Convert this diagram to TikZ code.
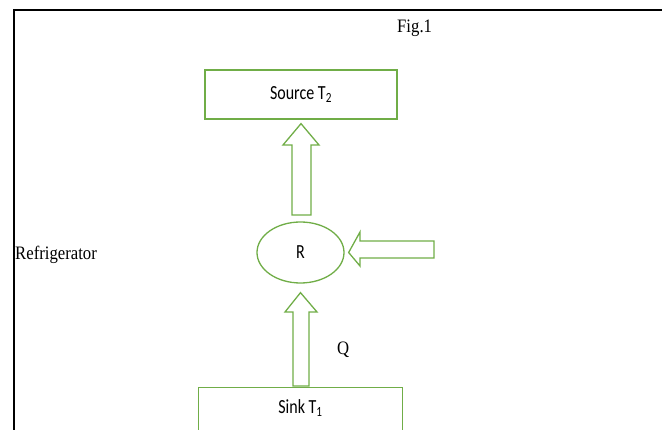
\documentclass[tikz,border=0pt]{standalone}
\usepackage{fontspec}
\usetikzlibrary{shapes.geometric}
\newfontfamily\tnr[FakeStretch=0.88]{Liberation Serif}
\newfontfamily\calib[FakeStretch=0.8]{Carlito}
\definecolor{leaf}{HTML}{70AD47}
\tikzset{
  frame/.style={line width=2.2pt, black},
  greenbox/.style={draw=leaf, line width=1.3pt, rectangle, inner sep=0pt,
    font=\calib\fontsize{20}{22}\selectfont},
  greenring/.style={draw=leaf, line width=1.3pt, ellipse, inner sep=0pt,
    font=\calib\fontsize{20}{22}\selectfont},
  fatarrow/.style={draw=leaf, line width=1.3pt, line join=miter},
  caption/.style={inner sep=0pt, anchor=base west,
    font=\tnr\fontsize{19}{22}\selectfont},
}
\begin{document}
\begin{tikzpicture}[x=1pt, y=-1pt]
  \useasboundingbox (0,0) rectangle (662,430);
  \clip (0,0) rectangle (662,430);

  % page frame: top rule and left rule
  \coordinate (corner) at (14,10);
  \draw[frame] (14,431) -- (corner) -- (663,10);

  % labels
  \node[caption] (fig) at (397,33) {Fig.1};
  \node[caption] (fridge) at (15,260) {Refrigerator};
  \node[caption] (heat) at (337,355) {Q};

  % reservoirs and machine
  \node[greenbox, minimum width=192pt, minimum height=49pt] (src) at (301,94.5) {Source T\textsubscript{2}};
  \node[greenring, minimum width=87pt, minimum height=61pt] (R) at (300.5,252.5) {\raisebox{-3pt}{R}};
  \node[rectangle, inner sep=0pt, minimum width=203pt, minimum height=40pt,
        font=\calib\fontsize{20}{22}\selectfont] (sink) at (300.5,408) {Sink T\textsubscript{1}};
  \draw[draw=leaf, line width=1.3pt]
    ([yshift=-4pt]sink.south west) -- (sink.north west) -- (sink.north east) -- ([yshift=-4pt]sink.south east);

  % block arrows: R to source, sink to R, work into R
  \draw[fatarrow] (292,215) -- (292,145) -- (283,145) -- ([yshift=-4pt]src.south)
    -- (319,145) -- (311,145) -- (311,215) -- cycle;
  \draw[fatarrow] (293,386) -- (293,312) -- (285,312) -- ([yshift=-9pt]R.south)
    -- (317,312) -- (309,312) -- (309,386) -- cycle;
  \draw[fatarrow] (434,241) -- (360,241) -- (360,232) -- ([xshift=4pt]R.east)
    -- (360,266) -- (360,258) -- (434,258) -- cycle;
\end{tikzpicture}
\end{document}
